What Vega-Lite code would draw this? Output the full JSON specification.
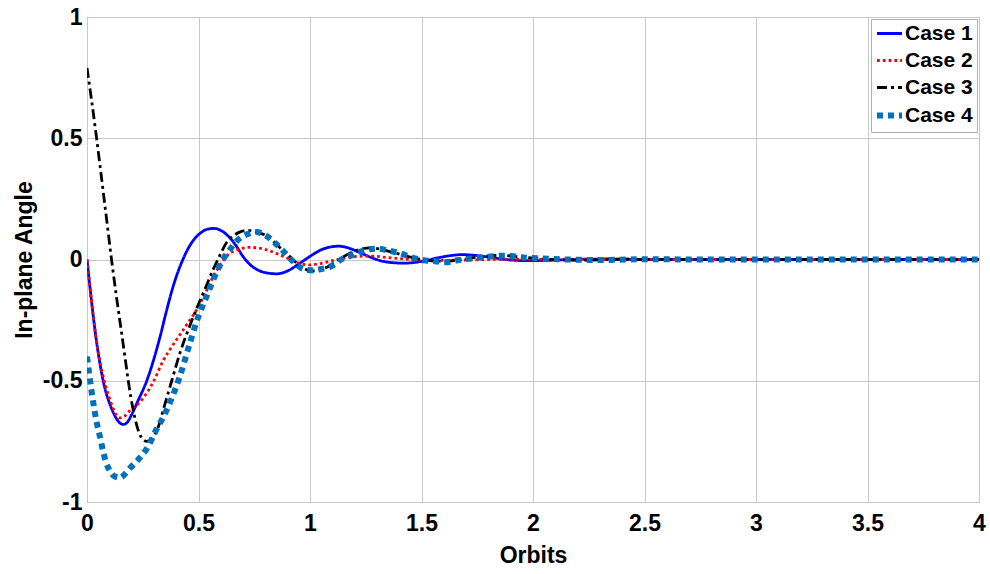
{
  "$schema": "https://vega.github.io/schema/vega-lite/v6.json",
  "width": 892,
  "height": 485,
  "autosize": {"type": "none"},
  "padding": {"left": 87, "top": 17, "right": 11, "bottom": 72},
  "background": "white",
  "config": {
    "view": {"stroke": "#8c8c8c", "strokeWidth": 1},
    "font": "Liberation Sans",
    "axis": {
      "labelFont": "Liberation Sans", "labelFontWeight": "bold", "labelFontSize": 23, "labelColor": "#000",
      "titleFont": "Liberation Sans", "titleFontWeight": "bold", "titleFontSize": 23, "titleColor": "#000",
      "gridColor": "#c8c8c8", "gridOpacity": 1, "gridWidth": 1,
      "domain": false, "ticks": false
    },
    "legend": {
      "labelFont": "Liberation Sans", "labelFontWeight": "bold", "labelFontSize": 21, "labelColor": "#000",
      "strokeColor": "#b0b0b0", "fillColor": "white", "padding": 4, "rowPadding": 5,
      "symbolType": "stroke", "symbolSize": 625, "symbolOffset": 4, "labelOffset": 5, "labelLimit": 300
    }
  },
  "data": {"values": [
    {"x":0,"y":0,"case":"Case 1"},{"x":0.02,"y":-0.17,"case":"Case 1"},{"x":0.04,"y":-0.32,"case":"Case 1"},{"x":0.06,"y":-0.44,"case":"Case 1"},{"x":0.08,"y":-0.53,"case":"Case 1"},{"x":0.1,"y":-0.59,"case":"Case 1"},{"x":0.12,"y":-0.635,"case":"Case 1"},{"x":0.14,"y":-0.667,"case":"Case 1"},{"x":0.163,"y":-0.68,"case":"Case 1"},{"x":0.18,"y":-0.672,"case":"Case 1"},{"x":0.2,"y":-0.64,"case":"Case 1"},{"x":0.23,"y":-0.58,"case":"Case 1"},{"x":0.268,"y":-0.5,"case":"Case 1"},{"x":0.3,"y":-0.41,"case":"Case 1"},{"x":0.33,"y":-0.31,"case":"Case 1"},{"x":0.357,"y":-0.21,"case":"Case 1"},{"x":0.39,"y":-0.1,"case":"Case 1"},{"x":0.43,"y":0,"case":"Case 1"},{"x":0.47,"y":0.07,"case":"Case 1"},{"x":0.51,"y":0.11,"case":"Case 1"},{"x":0.54,"y":0.125,"case":"Case 1"},{"x":0.567,"y":0.128,"case":"Case 1"},{"x":0.6,"y":0.12,"case":"Case 1"},{"x":0.64,"y":0.09,"case":"Case 1"},{"x":0.67,"y":0.055,"case":"Case 1"},{"x":0.7,"y":0.012,"case":"Case 1"},{"x":0.73,"y":-0.02,"case":"Case 1"},{"x":0.77,"y":-0.045,"case":"Case 1"},{"x":0.81,"y":-0.056,"case":"Case 1"},{"x":0.85,"y":-0.059,"case":"Case 1"},{"x":0.9,"y":-0.047,"case":"Case 1"},{"x":0.95,"y":-0.018,"case":"Case 1"},{"x":1.0,"y":0.013,"case":"Case 1"},{"x":1.05,"y":0.04,"case":"Case 1"},{"x":1.1,"y":0.053,"case":"Case 1"},{"x":1.13,"y":0.055,"case":"Case 1"},{"x":1.17,"y":0.048,"case":"Case 1"},{"x":1.22,"y":0.03,"case":"Case 1"},{"x":1.27,"y":0.01,"case":"Case 1"},{"x":1.32,"y":-0.006,"case":"Case 1"},{"x":1.37,"y":-0.013,"case":"Case 1"},{"x":1.42,"y":-0.015,"case":"Case 1"},{"x":1.47,"y":-0.012,"case":"Case 1"},{"x":1.52,"y":-0.004,"case":"Case 1"},{"x":1.58,"y":0.008,"case":"Case 1"},{"x":1.63,"y":0.016,"case":"Case 1"},{"x":1.68,"y":0.02,"case":"Case 1"},{"x":1.74,"y":0.017,"case":"Case 1"},{"x":1.82,"y":0.007,"case":"Case 1"},{"x":1.9,"y":-0.002,"case":"Case 1"},{"x":1.98,"y":-0.005,"case":"Case 1"},{"x":2.08,"y":-0.003,"case":"Case 1"},{"x":2.2,"y":0.001,"case":"Case 1"},{"x":2.35,"y":0.002,"case":"Case 1"},{"x":2.5,"y":0,"case":"Case 1"},{"x":3.0,"y":0,"case":"Case 1"},{"x":3.5,"y":0,"case":"Case 1"},{"x":4.0,"y":0,"case":"Case 1"},

    {"x":0,"y":0,"case":"Case 2"},{"x":0.02,"y":-0.17,"case":"Case 2"},{"x":0.04,"y":-0.32,"case":"Case 2"},{"x":0.06,"y":-0.43,"case":"Case 2"},{"x":0.08,"y":-0.51,"case":"Case 2"},{"x":0.1,"y":-0.57,"case":"Case 2"},{"x":0.12,"y":-0.62,"case":"Case 2"},{"x":0.148,"y":-0.653,"case":"Case 2"},{"x":0.17,"y":-0.645,"case":"Case 2"},{"x":0.2,"y":-0.615,"case":"Case 2"},{"x":0.23,"y":-0.595,"case":"Case 2"},{"x":0.268,"y":-0.55,"case":"Case 2"},{"x":0.3,"y":-0.5,"case":"Case 2"},{"x":0.34,"y":-0.42,"case":"Case 2"},{"x":0.38,"y":-0.36,"case":"Case 2"},{"x":0.417,"y":-0.31,"case":"Case 2"},{"x":0.45,"y":-0.265,"case":"Case 2"},{"x":0.49,"y":-0.21,"case":"Case 2"},{"x":0.53,"y":-0.14,"case":"Case 2"},{"x":0.566,"y":-0.07,"case":"Case 2"},{"x":0.6,"y":-0.02,"case":"Case 2"},{"x":0.626,"y":0.014,"case":"Case 2"},{"x":0.66,"y":0.035,"case":"Case 2"},{"x":0.7,"y":0.047,"case":"Case 2"},{"x":0.73,"y":0.05,"case":"Case 2"},{"x":0.77,"y":0.047,"case":"Case 2"},{"x":0.806,"y":0.04,"case":"Case 2"},{"x":0.85,"y":0.025,"case":"Case 2"},{"x":0.9,"y":0.005,"case":"Case 2"},{"x":0.95,"y":-0.015,"case":"Case 2"},{"x":1.0,"y":-0.022,"case":"Case 2"},{"x":1.05,"y":-0.016,"case":"Case 2"},{"x":1.1,"y":-0.005,"case":"Case 2"},{"x":1.15,"y":0.005,"case":"Case 2"},{"x":1.2,"y":0.012,"case":"Case 2"},{"x":1.27,"y":0.014,"case":"Case 2"},{"x":1.35,"y":0.008,"case":"Case 2"},{"x":1.45,"y":0,"case":"Case 2"},{"x":1.55,"y":-0.004,"case":"Case 2"},{"x":1.7,"y":-0.002,"case":"Case 2"},{"x":1.9,"y":0.001,"case":"Case 2"},{"x":2.2,"y":0,"case":"Case 2"},{"x":3.0,"y":0,"case":"Case 2"},{"x":4.0,"y":0,"case":"Case 2"},

    {"x":0,"y":0.79,"case":"Case 3"},{"x":0.02,"y":0.66,"case":"Case 3"},{"x":0.043,"y":0.5,"case":"Case 3"},{"x":0.07,"y":0.3,"case":"Case 3"},{"x":0.09,"y":0.15,"case":"Case 3"},{"x":0.11,"y":0,"case":"Case 3"},{"x":0.13,"y":-0.14,"case":"Case 3"},{"x":0.15,"y":-0.27,"case":"Case 3"},{"x":0.17,"y":-0.4,"case":"Case 3"},{"x":0.185,"y":-0.5,"case":"Case 3"},{"x":0.207,"y":-0.62,"case":"Case 3"},{"x":0.225,"y":-0.69,"case":"Case 3"},{"x":0.245,"y":-0.735,"case":"Case 3"},{"x":0.268,"y":-0.75,"case":"Case 3"},{"x":0.29,"y":-0.74,"case":"Case 3"},{"x":0.32,"y":-0.69,"case":"Case 3"},{"x":0.342,"y":-0.62,"case":"Case 3"},{"x":0.38,"y":-0.5,"case":"Case 3"},{"x":0.417,"y":-0.385,"case":"Case 3"},{"x":0.45,"y":-0.3,"case":"Case 3"},{"x":0.49,"y":-0.206,"case":"Case 3"},{"x":0.53,"y":-0.12,"case":"Case 3"},{"x":0.566,"y":-0.041,"case":"Case 3"},{"x":0.6,"y":0.025,"case":"Case 3"},{"x":0.626,"y":0.07,"case":"Case 3"},{"x":0.66,"y":0.1,"case":"Case 3"},{"x":0.69,"y":0.115,"case":"Case 3"},{"x":0.72,"y":0.12,"case":"Case 3"},{"x":0.76,"y":0.112,"case":"Case 3"},{"x":0.8,"y":0.1,"case":"Case 3"},{"x":0.835,"y":0.075,"case":"Case 3"},{"x":0.87,"y":0.045,"case":"Case 3"},{"x":0.91,"y":0.012,"case":"Case 3"},{"x":0.95,"y":-0.022,"case":"Case 3"},{"x":0.98,"y":-0.04,"case":"Case 3"},{"x":1.0,"y":-0.048,"case":"Case 3"},{"x":1.04,"y":-0.045,"case":"Case 3"},{"x":1.08,"y":-0.03,"case":"Case 3"},{"x":1.13,"y":0,"case":"Case 3"},{"x":1.2,"y":0.035,"case":"Case 3"},{"x":1.27,"y":0.048,"case":"Case 3"},{"x":1.35,"y":0.035,"case":"Case 3"},{"x":1.45,"y":0.01,"case":"Case 3"},{"x":1.52,"y":-0.003,"case":"Case 3"},{"x":1.58,"y":-0.007,"case":"Case 3"},{"x":1.65,"y":-0.004,"case":"Case 3"},{"x":1.75,"y":0.01,"case":"Case 3"},{"x":1.85,"y":0.017,"case":"Case 3"},{"x":1.95,"y":0.01,"case":"Case 3"},{"x":2.05,"y":0.002,"case":"Case 3"},{"x":2.2,"y":-0.003,"case":"Case 3"},{"x":2.4,"y":0.001,"case":"Case 3"},{"x":2.7,"y":0,"case":"Case 3"},{"x":3.3,"y":0,"case":"Case 3"},{"x":4.0,"y":0,"case":"Case 3"},

    {"x":0,"y":-0.4,"case":"Case 4"},{"x":0.014,"y":-0.5,"case":"Case 4"},{"x":0.028,"y":-0.59,"case":"Case 4"},{"x":0.043,"y":-0.67,"case":"Case 4"},{"x":0.058,"y":-0.73,"case":"Case 4"},{"x":0.072,"y":-0.79,"case":"Case 4"},{"x":0.085,"y":-0.835,"case":"Case 4"},{"x":0.105,"y":-0.875,"case":"Case 4"},{"x":0.125,"y":-0.895,"case":"Case 4"},{"x":0.148,"y":-0.9,"case":"Case 4"},{"x":0.17,"y":-0.885,"case":"Case 4"},{"x":0.193,"y":-0.86,"case":"Case 4"},{"x":0.23,"y":-0.825,"case":"Case 4"},{"x":0.268,"y":-0.78,"case":"Case 4"},{"x":0.312,"y":-0.7,"case":"Case 4"},{"x":0.342,"y":-0.65,"case":"Case 4"},{"x":0.372,"y":-0.59,"case":"Case 4"},{"x":0.417,"y":-0.48,"case":"Case 4"},{"x":0.462,"y":-0.343,"case":"Case 4"},{"x":0.49,"y":-0.26,"case":"Case 4"},{"x":0.537,"y":-0.15,"case":"Case 4"},{"x":0.58,"y":-0.055,"case":"Case 4"},{"x":0.61,"y":0,"case":"Case 4"},{"x":0.64,"y":0.04,"case":"Case 4"},{"x":0.67,"y":0.075,"case":"Case 4"},{"x":0.7,"y":0.096,"case":"Case 4"},{"x":0.73,"y":0.108,"case":"Case 4"},{"x":0.76,"y":0.113,"case":"Case 4"},{"x":0.8,"y":0.1,"case":"Case 4"},{"x":0.835,"y":0.075,"case":"Case 4"},{"x":0.87,"y":0.045,"case":"Case 4"},{"x":0.9,"y":0.014,"case":"Case 4"},{"x":0.93,"y":-0.013,"case":"Case 4"},{"x":0.955,"y":-0.032,"case":"Case 4"},{"x":0.985,"y":-0.043,"case":"Case 4"},{"x":1.015,"y":-0.045,"case":"Case 4"},{"x":1.045,"y":-0.04,"case":"Case 4"},{"x":1.097,"y":-0.027,"case":"Case 4"},{"x":1.14,"y":0,"case":"Case 4"},{"x":1.194,"y":0.02,"case":"Case 4"},{"x":1.24,"y":0.037,"case":"Case 4"},{"x":1.3,"y":0.045,"case":"Case 4"},{"x":1.35,"y":0.037,"case":"Case 4"},{"x":1.4,"y":0.027,"case":"Case 4"},{"x":1.45,"y":0.011,"case":"Case 4"},{"x":1.51,"y":-0.003,"case":"Case 4"},{"x":1.56,"y":-0.007,"case":"Case 4"},{"x":1.61,"y":-0.011,"case":"Case 4"},{"x":1.66,"y":-0.003,"case":"Case 4"},{"x":1.72,"y":0.004,"case":"Case 4"},{"x":1.78,"y":0.01,"case":"Case 4"},{"x":1.83,"y":0.014,"case":"Case 4"},{"x":1.88,"y":0.016,"case":"Case 4"},{"x":1.94,"y":0.01,"case":"Case 4"},{"x":2.04,"y":0.004,"case":"Case 4"},{"x":2.15,"y":0,"case":"Case 4"},{"x":2.3,"y":-0.002,"case":"Case 4"},{"x":2.5,"y":0.001,"case":"Case 4"},{"x":2.8,"y":0,"case":"Case 4"},{"x":3.4,"y":0,"case":"Case 4"},{"x":4.0,"y":0,"case":"Case 4"}
  ]},
  "mark": {"type": "line", "interpolate": "monotone", "clip": true},
  "encoding": {
    "x": {"field": "x", "type": "quantitative", "title": "Orbits",
      "scale": {"domain": [0, 4], "nice": false, "zero": false},
      "axis": {"values": [0, 0.5, 1, 1.5, 2, 2.5, 3, 3.5, 4], "labelExpr": "toString(datum.value)", "labelPadding": 10, "titlePadding": 9, "labelFlush": false}},
    "y": {"field": "y", "type": "quantitative", "title": "In-plane Angle",
      "scale": {"domain": [-1, 1], "nice": false},
      "axis": {"values": [-1, -0.5, 0, 0.5, 1], "labelExpr": "toString(datum.value)", "labelPadding": 5, "titlePadding": 6, "labelFlush": false}},
    "color": {"field": "case", "type": "nominal", "title": null,
      "scale": {"domain": ["Case 1", "Case 2", "Case 3", "Case 4"], "range": ["#0000ff", "#ff0000", "#000000", "#0072bd"]},
      "legend": {"orient": "top-right", "offset": 2,
        "encode": {"symbols": {"update": {"strokeWidth": {"signal": "datum.value === 'Case 4' ? 6 : 2.8"}}}}}},
    "strokeDash": {"field": "case", "type": "nominal", "title": null,
      "scale": {"domain": ["Case 1", "Case 2", "Case 3", "Case 4"], "range": [[1, 0], [2.8, 3], [10, 4, 3, 4], [6, 5]]}},
    "strokeWidth": {"condition": {"test": "datum.case === 'Case 4'", "value": 6}, "value": 2.8}
  }
}
